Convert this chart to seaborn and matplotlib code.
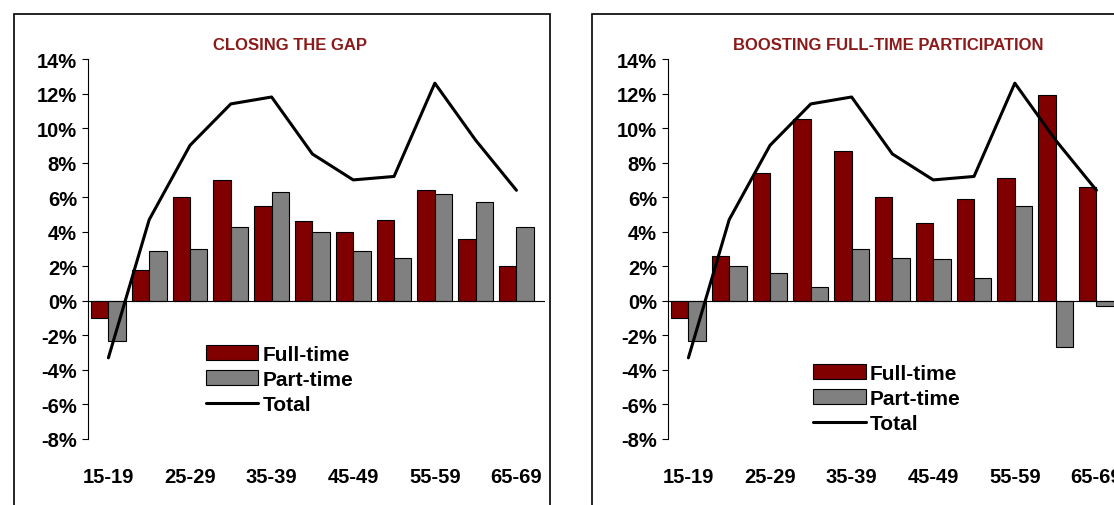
import matplotlib
matplotlib.use("Agg")
import matplotlib.pyplot as plt
import seaborn as sns
import pandas as pd
from matplotlib.patches import Rectangle
from matplotlib.ticker import PercentFormatter

groups = ["15-19","20-24","25-29","30-34","35-39","40-44","45-49","50-54","55-59","60-64","65-69"]
total = [-3.3, 4.7, 9.0, 11.4, 11.8, 8.5, 7.0, 7.2, 12.6, 9.3, 6.4]
left_ft = [-1.0, 1.8, 6.0, 7.0, 5.5, 4.6, 4.0, 4.7, 6.4, 3.6, 2.0]
left_pt = [-2.3, 2.9, 3.0, 4.3, 6.3, 4.0, 2.9, 2.5, 6.2, 5.7, 4.3]
right_ft = [-1.0, 2.6, 7.4, 10.5, 8.7, 6.0, 4.5, 5.9, 7.1, 11.9, 6.6]
right_pt = [-2.3, 2.0, 1.6, 0.8, 3.0, 2.5, 2.4, 1.3, 5.5, -2.7, -0.3]
titles = ["CLOSING THE GAP", "BOOSTING FULL-TIME PARTICIPATION"]

sns.set_style("white")
plt.rcParams['font.family'] = ['Liberation Sans', 'DejaVu Sans']
plt.rcParams['axes.unicode_minus'] = False
plt.rcParams['text.color'] = 'black'
plt.rcParams['xtick.color'] = 'black'
plt.rcParams['ytick.color'] = 'black'
fig = plt.figure(figsize=(11.14, 5.06), dpi=100)

for bx, bw in [(14, 536), (592, 600)]:
    fig.patches.append(Rectangle((bx/1114, -0.1), bw/1114, 1.1 - 15/506, transform=fig.transFigure,
                                 fill=False, edgecolor='black', lw=1.2))

specs = [(88, left_ft, left_pt, (0.24, 0.27), 290), (668, right_ft, right_pt, (0.30, 0.22), 888)]
for i, (lx, ft, pt, lpos, tx) in enumerate(specs):
    ax = fig.add_axes([lx/1114, 1-440/506, 457/1114, 380/506])
    df = pd.DataFrame({"group": groups*2, "value": ft+pt,
                       "series": ["Full-time"]*11 + ["Part-time"]*11})
    sns.barplot(data=df, x="group", y="value", hue="series", ax=ax,
                palette=["#800000", "#808080"], edgecolor="black", linewidth=0.8,
                width=0.85, saturation=1)
    sns.lineplot(x=list(range(11)), y=total, ax=ax, color="black", lw=2.2, label="Total")
    ax.axhline(0, color="black", lw=0.8)
    ax.set_ylim(-8, 14)
    ax.set_yticks(range(-8, 15, 2))
    ax.yaxis.set_major_formatter(PercentFormatter(decimals=0))
    ax.set_xlim(-0.5, 10.7)
    ax.set_xticks(range(0, 11, 2))
    ax.set_xticklabels(groups[::2])
    ax.tick_params(axis='x', length=0, pad=20)
    ax.tick_params(axis='y', length=4, direction='out', left=True, pad=4)
    for lab in ax.get_xticklabels() + ax.get_yticklabels():
        lab.set_fontsize(14.5); lab.set_fontweight('bold')
    ax.set_xlabel(""); ax.set_ylabel("")
    for s in ['top', 'right', 'bottom']:
        ax.spines[s].set_visible(False)
    ax.spines['left'].set_color('black'); ax.spines['left'].set_linewidth(0.8)
    leg = ax.legend(loc='upper left', bbox_to_anchor=lpos, frameon=False,
                    prop={'weight': 'bold', 'size': 15}, handlelength=2.5,
                    handletextpad=0.2, labelspacing=0.3, borderaxespad=0)
    fig.text(tx/1114, 1-45/506, titles[i], color="#8B1A1A", fontsize=12,
             fontweight='bold', ha='center', va='center')

fig.savefig("out.png", dpi=100)
